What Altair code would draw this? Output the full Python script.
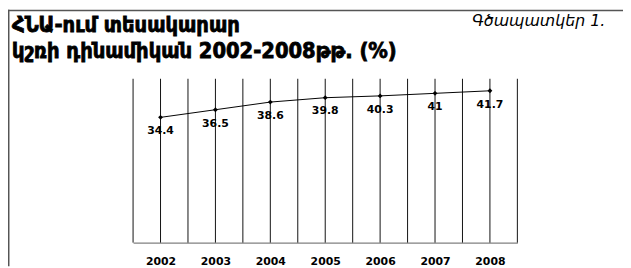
import altair as alt
import pandas as pd

years = [2002, 2003, 2004, 2005, 2006, 2007, 2008]
shares = [34.4, 36.5, 38.6, 39.8, 40.3, 41.0, 41.7]
value_labels = ["34.4", "36.5", "38.6", "39.8", "40.3", "41", "41.7"]
grid_positions = [2001.5, 2002, 2002.5, 2003, 2003.5, 2004, 2004.5, 2005, 2005.5,
                  2006, 2006.5, 2007, 2007.5, 2008, 2008.5]
title_line1 = "ՀՆԱ-ում տեսակարար"
title_line2 = "կշռի դինամիկան 2002-2008թթ. (%)"
figure_label = "Գծապատկեր 1."

df = pd.DataFrame({"year": years, "share": shares, "label": value_labels})
gdf = pd.DataFrame({"g": grid_positions})

W, H = 389.3, 166
PAD_L, PAD_T = 126.7, 70
PAD_R = 623 - PAD_L - W
PAD_B = 260 - PAD_T - H

xscale = alt.Scale(domain=[2001.5, 2008.5], nice=False, zero=False)
xaxis = alt.Axis(values=years, title=None, format="d",
                 grid=False, ticks=False, domainColor="#808080", domainWidth=1.5,
                 labelFont="DejaVu Sans", labelFontWeight="bold", labelFontSize=11,
                 labelColor="#000000", labelPadding=19, labelBaseline="middle",
                 labelFlush=False, labelOverlap=False)
y = alt.Y("share:Q", scale=alt.Scale(domain=[0, 45], nice=False), axis=None)

grid = alt.Chart(gdf).mark_rule(color="#111111", strokeWidth=1).encode(
    x=alt.X("g:Q", scale=xscale, axis=xaxis), y=alt.value(0), y2=alt.value(H))

base = alt.Chart(df)
line = base.mark_line(color="#000000", strokeWidth=1).encode(
    x=alt.X("year:Q", scale=xscale, axis=xaxis), y=y)
pts = base.mark_point(shape="diamond", filled=True, color="#000000", size=24, opacity=1).encode(
    x=alt.X("year:Q", scale=xscale, axis=xaxis), y="share:Q")
labels = base.mark_text(font="DejaVu Sans", fontWeight="bold", fontSize=11, dy=14,
                        baseline="middle", color="#000000").encode(
    x=alt.X("year:Q", scale=xscale, axis=xaxis), y="share:Q", text="label:N")

t1 = alt.Chart(pd.DataFrame({"t": [title_line1]})).mark_text(
    font="DejaVu Sans Condensed", fontWeight="bold", fontSize=22, align="left",
    baseline="alphabetic", color="#000000", stroke="#000000", strokeWidth=0.8).encode(
    x=alt.value(12 - 8 - PAD_L), y=alt.value(31 - 8 - PAD_T), text="t:N")
t2 = alt.Chart(pd.DataFrame({"t": [title_line2]})).mark_text(
    font="DejaVu Sans Condensed", fontWeight="bold", fontSize=22, align="left",
    baseline="alphabetic", color="#000000", stroke="#000000", strokeWidth=0.8).encode(
    x=alt.value(12 - 8 - PAD_L), y=alt.value(57 - 8 - PAD_T), text="t:N")
t3 = alt.Chart(pd.DataFrame({"t": [figure_label]})).mark_text(
    font="DejaVu Sans", fontStyle="italic", fontSize=16, align="right",
    baseline="alphabetic", color="#000000").encode(
    x=alt.value(613 - 8 - PAD_L), y=alt.value(25 - 8 - PAD_T), text="t:N")

border_top = alt.Chart(pd.DataFrame({"a": [0]})).mark_rule(color="#555555", strokeWidth=1.5).encode(
    x=alt.value(-PAD_L), x2=alt.value(W + PAD_R), y=alt.value(0.75 - PAD_T))
border_left = alt.Chart(pd.DataFrame({"a": [0]})).mark_rule(color="#555555", strokeWidth=1.5).encode(
    x=alt.value(0.75 - PAD_L), y=alt.value(-PAD_T), y2=alt.value(H + PAD_B))

chart = alt.layer(grid, line, pts, labels, t1, t2, t3, border_top, border_left).properties(
    width=W, height=H,
    autosize=alt.AutoSizeParams(type="none"),
    padding={"left": PAD_L, "top": PAD_T, "right": PAD_R, "bottom": PAD_B},
    background="#ffffff",
).configure_view(stroke=None)

chart.save("out.html", embed_options={"renderer": "svg", "actions": False})
